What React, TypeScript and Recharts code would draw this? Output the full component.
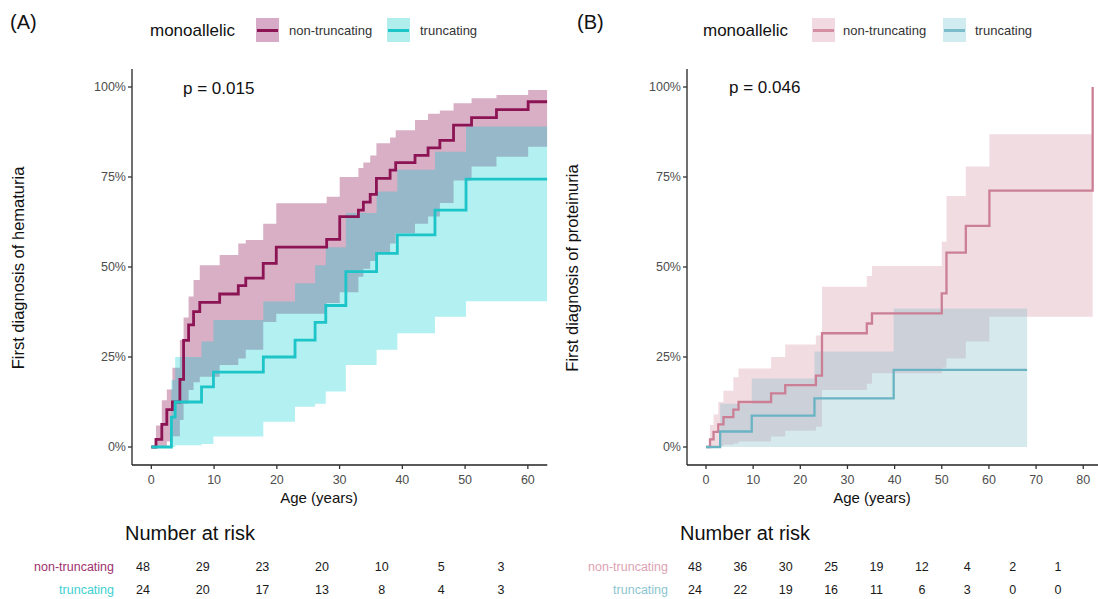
import React from 'react';
import { ComposedChart, Line, Area, XAxis, YAxis, ScatterChart, Scatter } from 'recharts';

const FONT = '"Liberation Sans", Arial, Helvetica, sans-serif';

// ---------- Panel A: hematuria ----------
const A_END = 63.1;
const A_TICKS = [0, 10, 20, 30, 40, 50, 60];
const A_NT_LINE: number[][] = [
  [0, 0], [0.74, 2.1], [1.67, 6.3], [2.47, 10.4], [3.36, 12.5], [4.55, 18.8], [5.14, 29.6],
  [5.94, 33.9], [6.73, 37.6], [7.72, 40.2], [10.89, 42.5], [13.86, 44.8], [15.05, 46.9],
  [17.83, 51.0], [19.91, 55.5], [27.94, 57.7], [30.02, 64.0], [33.0, 65.8], [33.79, 68.0],
  [34.88, 70.2], [35.87, 74.6], [38.05, 76.9], [38.94, 79.0], [42.02, 81.0], [44.1, 83.1],
  [45.98, 85.2], [48.16, 89.4], [51.03, 91.5], [55.0, 93.7], [60.05, 95.9],
];
const A_NT_BAND: number[][] = [
  [0, 0, 0], [0.74, 0, 6], [1.67, 0, 13], [2.47, 1.5, 16], [3.36, 3, 22], [4.55, 7.5, 29.7],
  [5.14, 12, 36], [5.94, 15.8, 41.8], [6.73, 18, 46.4], [7.72, 19.5, 50.5], [10.89, 22.8, 53.3],
  [13.86, 24.6, 56.5], [15.05, 27, 57.5], [17.83, 34.7, 62], [19.91, 37, 67.7], [27.94, 40, 69.5],
  [30.02, 43, 75], [33.0, 47.3, 77.5], [33.79, 49.5, 79], [34.88, 51.7, 81], [35.87, 54, 84.4],
  [38.05, 56.5, 86], [38.94, 59.4, 88], [42.02, 62, 90.8], [44.1, 64, 92.6], [45.98, 67.8, 93.5],
  [48.16, 74, 95.5], [51.03, 77.9, 96.9], [55.0, 80.6, 97.8], [60.05, 83.4, 99.2],
];
const A_TR_LINE: number[][] = [
  [0, 0], [3.2, 8.3], [3.8, 12.5], [8.0, 16.7], [9.9, 20.8], [17.85, 25.0], [22.9, 29.7],
  [26.1, 34.6], [27.8, 39.3], [31.0, 48.7], [35.9, 53.8], [39.2, 58.9], [45.2, 65.8], [50.15, 74.4],
];
const A_TR_BAND: number[][] = [
  [0, 0, 0], [3.2, 0, 18.6], [3.8, 0.5, 25], [8.0, 0.8, 29.3], [9.9, 2.9, 35.3], [17.85, 7, 40.4],
  [22.9, 11.2, 45.5], [26.1, 12, 50.5], [27.8, 15.4, 55.5], [31.0, 22.8, 65], [35.9, 27, 71],
  [39.2, 31.6, 77], [45.2, 36.2, 82], [50.15, 40.5, 89],
];
const A_RISK_TIMES = [0, 10, 20, 30, 40, 50, 60];
const A_RISK_NT = [48, 29, 23, 20, 10, 5, 3];
const A_RISK_TR = [24, 20, 17, 13, 8, 4, 3];

// ---------- Panel B: proteinuria ----------
const B_NT_END = 82.0;
const B_TR_END = 68.1;
const B_TICKS = [0, 10, 20, 30, 40, 50, 60, 70, 80];
const B_NT_LINE: number[][] = [
  [0, 0], [0.85, 2.1], [1.6, 4.2], [2.6, 6.3], [3.7, 8.3], [5.8, 10.4], [6.9, 12.5], [13.8, 14.9],
  [16.8, 17.2], [23.3, 19.8], [24.6, 31.6], [34.1, 34.3], [35.2, 37.1], [50.0, 42.7], [51.0, 54.0],
  [55.1, 61.4], [60.1, 71.2], [82.0, 100],
];
const B_NT_BAND: number[][] = [
  [0, 0, 0], [0.85, 0, 6.1], [1.6, 0, 9], [2.6, 0.3, 12.5], [3.7, 0.6, 15.6], [5.8, 1, 19.4],
  [6.9, 1.5, 21.8], [13.8, 2.9, 25], [16.8, 4.5, 28.5], [23.3, 5.6, 31], [24.6, 15.8, 44.5],
  [34.1, 17.6, 47.5], [35.2, 20.5, 50.3], [50.0, 22, 57], [51.0, 24.6, 69.7], [55.1, 29.3, 77.9],
  [60.1, 36.2, 86.9],
];
const B_TR_LINE: number[][] = [[0, 0], [3.0, 4.3], [9.7, 8.7], [23.0, 13.5], [39.8, 21.4]];
const B_TR_BAND: number[][] = [[0, 0, 0], [3.0, 0, 12], [9.7, 0, 19], [23.0, 0, 26.5], [39.8, 0, 38.5]];
const B_RISK_TIMES = [0, 10, 20, 30, 40, 50, 60, 70, 80];
const B_RISK_NT = [48, 36, 30, 25, 19, 12, 4, 2, 1];
const B_RISK_TR = [24, 22, 19, 16, 11, 6, 3, 0, 0];

const Y_TICKS = [0, 25, 50, 75, 100];

type Series = { key: string; steps: number[][]; end: number };

function buildRows(series: Series[]) {
  const times = new Set<number>();
  series.forEach((s) => {
    s.steps.forEach((p) => times.add(p[0]));
    times.add(s.end);
  });
  const sorted = Array.from(times).sort((a, b) => a - b);
  return sorted.map((t) => {
    const row: any = { t };
    series.forEach((s) => {
      if (t > s.end + 1e-9) return;
      let cur: number[] | undefined;
      for (const p of s.steps) if (p[0] <= t + 1e-9) cur = p;
      if (!cur) return;
      row[s.key] = cur.length === 3 ? [cur[1], cur[2]] : cur[1];
    });
    return row;
  });
}

const rowsA = buildRows([
  { key: 'ntLine', steps: A_NT_LINE, end: A_END },
  { key: 'ntBand', steps: A_NT_BAND, end: A_END },
  { key: 'trLine', steps: A_TR_LINE, end: A_END },
  { key: 'trBand', steps: A_TR_BAND, end: A_END },
]);
const rowsB = buildRows([
  { key: 'ntLine', steps: B_NT_LINE, end: B_NT_END },
  { key: 'ntBand', steps: B_NT_BAND, end: B_NT_END },
  { key: 'trLine', steps: B_TR_LINE, end: B_TR_END },
  { key: 'trBand', steps: B_TR_BAND, end: B_TR_END },
]);

const COL = {
  aNt: '#8C1455',
  aTr: '#1DC4C8',
  aTrFill: '#00CED1',
  bNt: '#CB7F95',
  bTr: '#6AB3C3',
};

const abs = (s: React.CSSProperties): React.CSSProperties => ({ position: 'absolute', whiteSpace: 'nowrap', ...s });

function Txt({ x, y, size, color = '#111', anchor = 'left', children }: any) {
  const tx = anchor === 'left' ? '0' : anchor === 'center' ? '-50%' : '-100%';
  return (
    <div style={abs({ left: x, top: y, fontSize: size, color, lineHeight: 1, transform: `translate(${tx}, -50%)` })}>
      {children}
    </div>
  );
}

function Key({ x, fill, stroke }: any) {
  return (
    <div style={abs({ left: x, top: 18, width: 23, height: 24, background: fill })}>
      <div style={abs({ left: 1, right: 1, top: 10.5, height: 3, background: stroke })} />
    </div>
  );
}

function YTitle({ x, children }: any) {
  return (
    <div style={abs({ left: x, top: 268, fontSize: 16.5, color: '#111', lineHeight: 1, transform: 'translate(-50%, -50%) rotate(-90deg)' })}>
      {children}
    </div>
  );
}

const axisProps = {
  stroke: '#222',
  strokeWidth: 1.3,
  tick: { fill: '#4d4d4d', fontSize: 12.5 },
  tickSize: 4,
};

function KMChart({ rows, domain, ticks, width, marginLeft, marginRight, ntColor, trColor, ntFill, trFill, ntOp, trOp, lw }: any) {
  return (
    <ComposedChart width={width} height={495} data={rows} margin={{ top: 69, right: marginRight, left: marginLeft, bottom: 0 }}>
      <XAxis
        type="number"
        dataKey="t"
        domain={domain}
        ticks={ticks}
        allowDataOverflow
        height={30}
        tickMargin={6}
        {...axisProps}
        tickLine={{ stroke: '#333' }}
      />
      <YAxis
        type="number"
        domain={[-5, 105]}
        ticks={Y_TICKS}
        allowDataOverflow
        width={60}
        tickMargin={2}
        tickFormatter={(v: number) => `${v}%`}
        {...axisProps}
        tickLine={{ stroke: '#333' }}
      />
      <Area type="stepAfter" dataKey="ntBand" stroke="none" fill={ntFill} fillOpacity={ntOp} isAnimationActive={false} dot={false} activeDot={false} />
      <Area type="stepAfter" dataKey="trBand" stroke="none" fill={trFill} fillOpacity={trOp} isAnimationActive={false} dot={false} activeDot={false} />
      <Line type="stepAfter" dataKey="ntLine" stroke={ntColor} strokeWidth={lw} dot={false} activeDot={false} isAnimationActive={false} />
      <Line type="stepAfter" dataKey="trLine" stroke={trColor} strokeWidth={lw} dot={false} activeDot={false} isAnimationActive={false} />
    </ComposedChart>
  );
}

function RiskTable({ times, nt, tr, domain, width, marginLeft, tickMargin, ntColor, trColor }: any) {
  const ntData = times.map((t: number, i: number) => ({ t, row: 1, n: nt[i] }));
  const trData = times.map((t: number, i: number) => ({ t, row: 2, n: tr[i] }));
  const labels: Record<number, [string, string]> = { 1: ['non-truncating', ntColor], 2: ['truncating', trColor] };
  const renderTick = (p: any) => {
    const [label, color] = labels[p.payload.value] || ['', '#000'];
    return (
      <text x={p.x} y={p.y} textAnchor="end" dominantBaseline="central" fill={color} fontSize={12.5}>
        {label}
      </text>
    );
  };
  const shape = (p: any) => (
    <text x={p.cx} y={p.cy} textAnchor="middle" dominantBaseline="central" fill="#1a1a1a" fontSize={12.5}>
      {p.payload.n}
    </text>
  );
  return (
    <ScatterChart width={width} height={46} margin={{ top: 0, right: 10, left: marginLeft, bottom: 0 }}>
      <XAxis type="number" dataKey="t" domain={domain} hide />
      <YAxis
        type="number"
        dataKey="row"
        domain={[0.5, 2.5]}
        ticks={[1, 2]}
        reversed
        width={100}
        axisLine={false}
        tickLine={false}
        tickSize={0}
        tickMargin={tickMargin}
        tick={renderTick}
      />
      <Scatter data={ntData} shape={shape} isAnimationActive={false} />
      <Scatter data={trData} shape={shape} isAnimationActive={false} />
    </ScatterChart>
  );
}

export default function App() {
  return (
    <div style={{ position: 'absolute', left: 0, top: 0, width: 1098, height: 599, overflow: 'hidden', background: '#fff', fontFamily: FONT }}>
      {/* Panel A */}
      <Txt x={10} y={22} size={20}>(A)</Txt>
      <Txt x={150} y={30} size={17}>monoallelic</Txt>
      <Key x={256} fill="#D7AAC8" stroke={COL.aNt} />
      <Txt x={289} y={30} size={13} color="#333">non-truncating</Txt>
      <Key x={387} fill="#B0EEEE" stroke={COL.aTr} />
      <Txt x={420} y={30} size={13} color="#333">truncating</Txt>
      <div style={abs({ left: 0, top: 0 })}>
        <KMChart
          rows={rowsA}
          domain={[-3.08, 63.1]}
          ticks={A_TICKS}
          width={560}
          marginLeft={72}
          marginRight={12.7}
          ntColor={COL.aNt}
          trColor={COL.aTr}
          ntFill={COL.aNt}
          trFill={COL.aTrFill}
          ntOp={0.34}
          trOp={0.3}
          lw={2.8}
        />
      </div>
      <Txt x={183} y={88} size={17}>p = 0.015</Txt>
      <YTitle x={18}>First diagnosis of hematuria</YTitle>
      <Txt x={319} y={497} size={15} anchor="center">Age (years)</Txt>
      <Txt x={125} y={533} size={20}>Number at risk</Txt>
      <div style={abs({ left: 0, top: 555 })}>
        <RiskTable
          times={A_RISK_TIMES}
          nt={A_RISK_NT}
          tr={A_RISK_TR}
          domain={[0, 60]}
          width={511}
          marginLeft={43}
          tickMargin={29}
          ntColor="#A0306F"
          trColor="#40CFD2"
        />
      </div>

      {/* Panel B */}
      <Txt x={577} y={22} size={20}>(B)</Txt>
      <Txt x={703} y={30} size={17}>monoallelic</Txt>
      <Key x={812} fill="#F2DAE2" stroke="#D48FA3" />
      <Txt x={843} y={30} size={13} color="#333">non-truncating</Txt>
      <Key x={943} fill="#D0ECF0" stroke="#7DBDCB" />
      <Txt x={975} y={30} size={13} color="#333">truncating</Txt>
      <div style={abs({ left: 550, top: 0 })}>
        <KMChart
          rows={rowsB}
          domain={[-4.03, 86.1]}
          ticks={B_TICKS}
          width={575}
          marginLeft={77}
          marginRight={13}
          ntColor={COL.bNt}
          trColor={COL.bTr}
          ntFill={COL.bNt}
          trFill={COL.bTr}
          ntOp={0.27}
          trOp={0.28}
          lw={2.3}
        />
      </div>
      <Txt x={729} y={87} size={17}>p = 0.046</Txt>
      <YTitle x={572}>First diagnosis of proteinuria</YTitle>
      <Txt x={872} y={497} size={15} anchor="center">Age (years)</Txt>
      <Txt x={680} y={533} size={20}>Number at risk</Txt>
      <div style={abs({ left: 550, top: 555 })}>
        <RiskTable
          times={B_RISK_TIMES}
          nt={B_RISK_NT}
          tr={B_RISK_TR}
          domain={[0, 80]}
          width={518}
          marginLeft={45}
          tickMargin={27}
          ntColor="#DDA3B3"
          trColor="#8CC5D0"
        />
      </div>
    </div>
  );
}
